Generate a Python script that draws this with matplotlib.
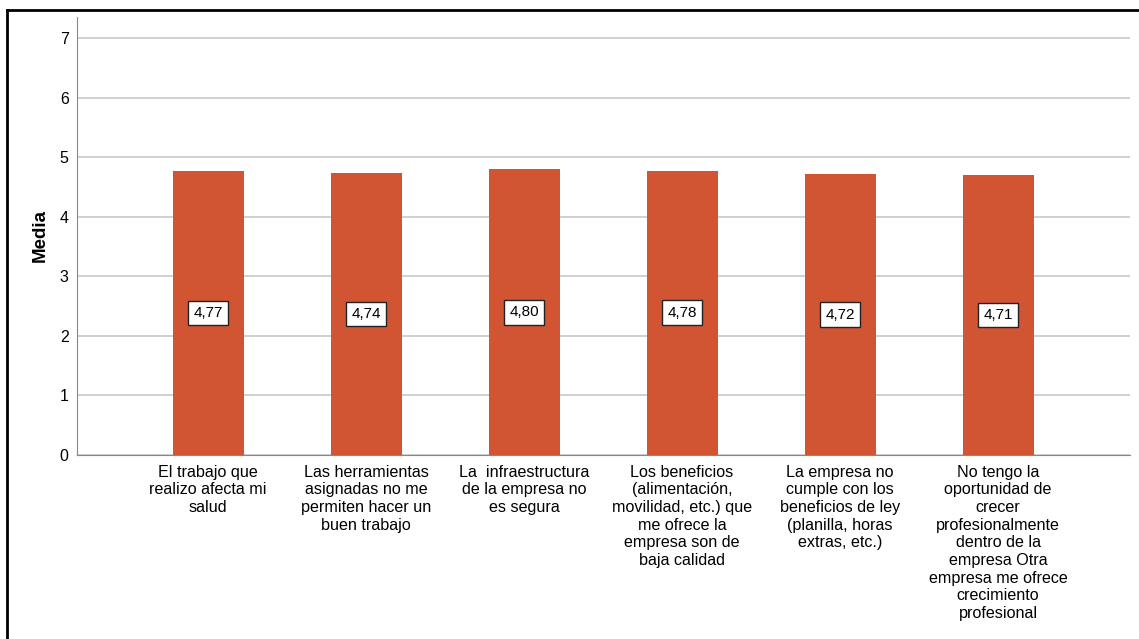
import matplotlib.pyplot as plt
from matplotlib.lines import Line2D

plt.rcParams['font.family'] = ['Liberation Sans', 'DejaVu Sans']

categories = [
    "El trabajo que\nrealizo afecta mi\nsalud",
    "Las herramientas\nasignadas no me\npermiten hacer un\nbuen trabajo",
    "La  infraestructura\nde la empresa no\nes segura",
    "Los beneficios\n(alimentación,\nmovilidad, etc.) que\nme ofrece la\nempresa son de\nbaja calidad",
    "La empresa no\ncumple con los\nbeneficios de ley\n(planilla, horas\nextras, etc.)",
    "No tengo la\noportunidad de\ncrecer\nprofesionalmente\ndentro de la\nempresa Otra\nempresa me ofrece\ncrecimiento\nprofesional",
]
means = [4.77, 4.74, 4.80, 4.78, 4.72, 4.71]
labels = ["4,77", "4,74", "4,80", "4,78", "4,72", "4,71"]
yticks = [0, 1, 2, 3, 4, 5, 6, 7]

fig = plt.figure(figsize=(11.39, 6.39), dpi=100)
ax = fig.add_axes([77 / 1139, 1 - 455 / 639, (1130 - 77) / 1139, (455 - 17) / 639])

x = list(range(len(categories)))
ax.bar(x, means, width=0.45, color='#D15433', zorder=3)
for xi, m, lab in zip(x, means, labels):
    ax.text(xi, m / 2, lab, ha='center', va='center', fontsize=11, zorder=4,
            bbox=dict(boxstyle='square,pad=0.35', fc='white', ec='#222222', lw=1.0))

ax.set_xlim(-0.83, 5.835)
ax.set_ylim(0, 7.36)
ax.set_yticks(yticks)
ax.set_yticklabels([str(t) for t in yticks], fontsize=11.5)
ax.set_xticks(x)
ax.set_xticklabels(categories, fontsize=11.6, linespacing=1.22)
ax.tick_params(length=0, pad=6)
ax.tick_params(axis='x', pad=7)
ax.yaxis.grid(True, color='#c8c8c8', lw=1.2, zorder=0)
for s in ['top', 'right']:
    ax.spines[s].set_visible(False)
ax.spines['left'].set_color('#888888')
ax.spines['bottom'].set_color('#888888')
ax.set_ylabel('Media', fontsize=13.5, fontweight='bold', labelpad=8)

# outer frame of the output
fig.add_artist(Line2D([7 / 1139, 7 / 1139], [0, 1 - 10 / 639], color='black', lw=2, transform=fig.transFigure))
fig.add_artist(Line2D([7 / 1139, 1], [1 - 10 / 639, 1 - 10 / 639], color='black', lw=2, transform=fig.transFigure))

fig.savefig('out.png', dpi=100)
